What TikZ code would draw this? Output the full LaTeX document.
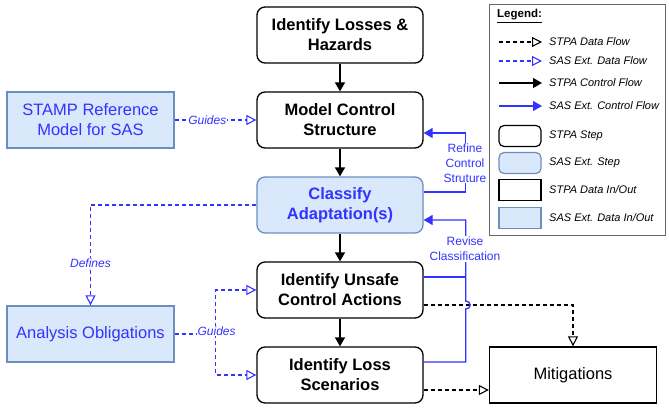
\documentclass[tikz,border=0pt]{standalone}
\usepackage{fontspec}
\setmainfont{Liberation Sans}
\usetikzlibrary{arrows.meta,calc}
\definecolor{sasblue}{RGB}{51,51,255}
\definecolor{sasfill}{HTML}{DAE8FC}
\definecolor{sasborder}{HTML}{6C8EBF}
\begin{document}
\begin{tikzpicture}[x=1pt,y=-1pt,
 stpastep/.style={draw=black,line width=1.3pt,rounded corners=8pt,minimum width=166pt,minimum height=56pt,align=center,font=\fontsize{16.5}{20}\selectfont\bfseries,fill=white,inner sep=2pt},
 sasstep/.style={stpastep,draw=sasborder,fill=sasfill,text=sasblue},
 stpadata/.style={draw=black,line width=1.3pt,minimum width=167pt,minimum height=56pt,align=center,font=\fontsize{16.5}{20}\selectfont,fill=white,inner sep=2pt},
 sasdata/.style={stpadata,draw=sasborder,fill=sasfill,text=sasblue},
 ctrl/.style={line width=1.3pt,-{Triangle[length=9pt,width=10pt]}},
 sasctrl/.style={ctrl,draw=sasblue},
 sasline/.style={line width=1.3pt,draw=sasblue},
 dflow/.style={line width=1.1pt,dash pattern=on 4pt off 3pt,-{Triangle[open,length=10pt,width=10pt]}},
 sasdflow/.style={dflow,draw=sasblue},
 sasdash/.style={line width=1.1pt,dash pattern=on 4pt off 3pt,draw=sasblue},
 lbl/.style={font=\fontsize{12}{15}\selectfont,text=sasblue,fill=white,inner sep=1pt,align=center},
 ilbl/.style={lbl,font=\fontsize{12}{15}\selectfont\itshape},
 legtext/.style={font=\fontsize{11}{13}\selectfont\itshape,anchor=west,inner sep=0pt},
 legbox/.style={minimum width=42pt,minimum height=21pt,line width=1.2pt,inner sep=0pt},
]
\useasboundingbox (0,0) rectangle (669,409);

% main column
\node[stpastep] (lh) at (340,35) {Identify Losses \&\\Hazards};
\node[stpastep] (mcs) at (340,120) {Model Control\\Structure};
\node[sasstep] (ca) at (340,205) {Classify\\Adaptation(s)};
\node[stpastep] (uca) at (340,290) {Identify Unsafe\\Control Actions};
\node[stpastep] (ls) at (340,375) {Identify Loss\\Scenarios};
\node[stpadata] (mit) at (573,375) {Mitigations};

% left data
\node[sasdata] (stamp) at (90.5,120) {STAMP Reference\\Model for SAS};
\node[sasdata] (ao) at (90.5,334) {Analysis Obligations};

% control flow
\draw[ctrl] (lh) -- (mcs);
\draw[ctrl] (mcs) -- (ca);
\draw[ctrl] (ca) -- (uca);
\draw[ctrl] (uca) -- (ls);

% SAS data flows
\draw[sasdflow] (stamp) -- node[ilbl,pos=0.4] (g1) {Guides} (mcs);
\draw[sasdflow] (ca.west) -| node[ilbl,pos=0.79] (def) {Defines} (ao.north);
\coordinate (gj) at ($(ao.east)+(41,0)$);
\draw[sasdash] (ao.east) -- (gj);
\draw[sasdflow] (gj) |- (uca.west);
\draw[sasdflow] (gj) |- (ls.west);
\node[ilbl] (g2) at ($(gj)+(1,-3)$) {Guides};

% STPA data to mitigations
\coordinate (ub) at ($(uca.east)+(0,15)$);
\coordinate (lb) at ($(ls.east)+(0,15)$);
\draw[dflow] (ub) -| (mit.north);
\draw[dflow] (lb) -- (lb -| mit.west);

% Refine control structure
\draw[sasctrl] ($(ca.east)+(0,-13)$) -- ($(ca.east)+(42,-13)$) -- ($(mcs.east)+(42,13)$) -- ($(mcs.east)+(0,13)$);
\node[lbl] (ref) at (465,163) {Refine\\Control\\Struture};

% Revise classification
\draw[sasline] ($(uca.east)+(0,-13)$) -- ($(uca.east)+(42,-13)$);
\draw[sasctrl] ($(ls.east)+(0,-13)$) -- ($(ls.east)+(42,-13)$) -- ($(uca.east)+(42,19)$)
  .. controls ($(uca.east)+(48,19)$) and ($(uca.east)+(48,11)$) .. ($(uca.east)+(42,11)$)
  -- ($(ca.east)+(42,15)$) -- ($(ca.east)+(0,15)$);
\node[lbl] (rev) at (465,249) {Revise\\Classification};

% legend
\draw[line width=1pt,draw=black!60] (489,5) rectangle (665,235);
\node[anchor=west,inner sep=0pt,font=\fontsize{11.5}{13}\selectfont\bfseries] (legt) at (497,16) {\underline{Legend:}};
\coordinate (a1) at (499,42); \coordinate (b1) at (542,42);
\draw[dflow] (a1) -- (b1);
\node[legtext] (t1) at (549,42) {STPA Data Flow};
\coordinate (a2) at (499,61); \coordinate (b2) at (542,61);
\draw[sasdflow] (a2) -- (b2);
\node[legtext] (t2) at (549,61) {SAS Ext. Data Flow};
\coordinate (a3) at (499,83); \coordinate (b3) at (542,83);
\draw[ctrl] (a3) -- (b3);
\node[legtext] (t3) at (549,83) {STPA Control Flow};
\coordinate (a4) at (499,106); \coordinate (b4) at (542,106);
\draw[sasctrl] (a4) -- (b4);
\node[legtext] (t4) at (549,106) {SAS Ext. Control Flow};
\node[legbox,draw=black,rounded corners=5pt] (k1) at (520,136) {};
\node[legtext] (t5) at (549,136) {STPA Step};
\node[legbox,draw=sasborder,fill=sasfill,rounded corners=5pt] (k2) at (520,163) {};
\node[legtext] (t6) at (549,163) {SAS Ext. Step};
\node[legbox,draw=black] (k3) at (520,190) {};
\node[legtext] (t7) at (549,190) {STPA Data In/Out};
\node[legbox,draw=sasborder,fill=sasfill] (k4) at (520,218) {};
\node[legtext] (t8) at (549,218) {SAS Ext. Data In/Out};
\end{tikzpicture}
\end{document}
